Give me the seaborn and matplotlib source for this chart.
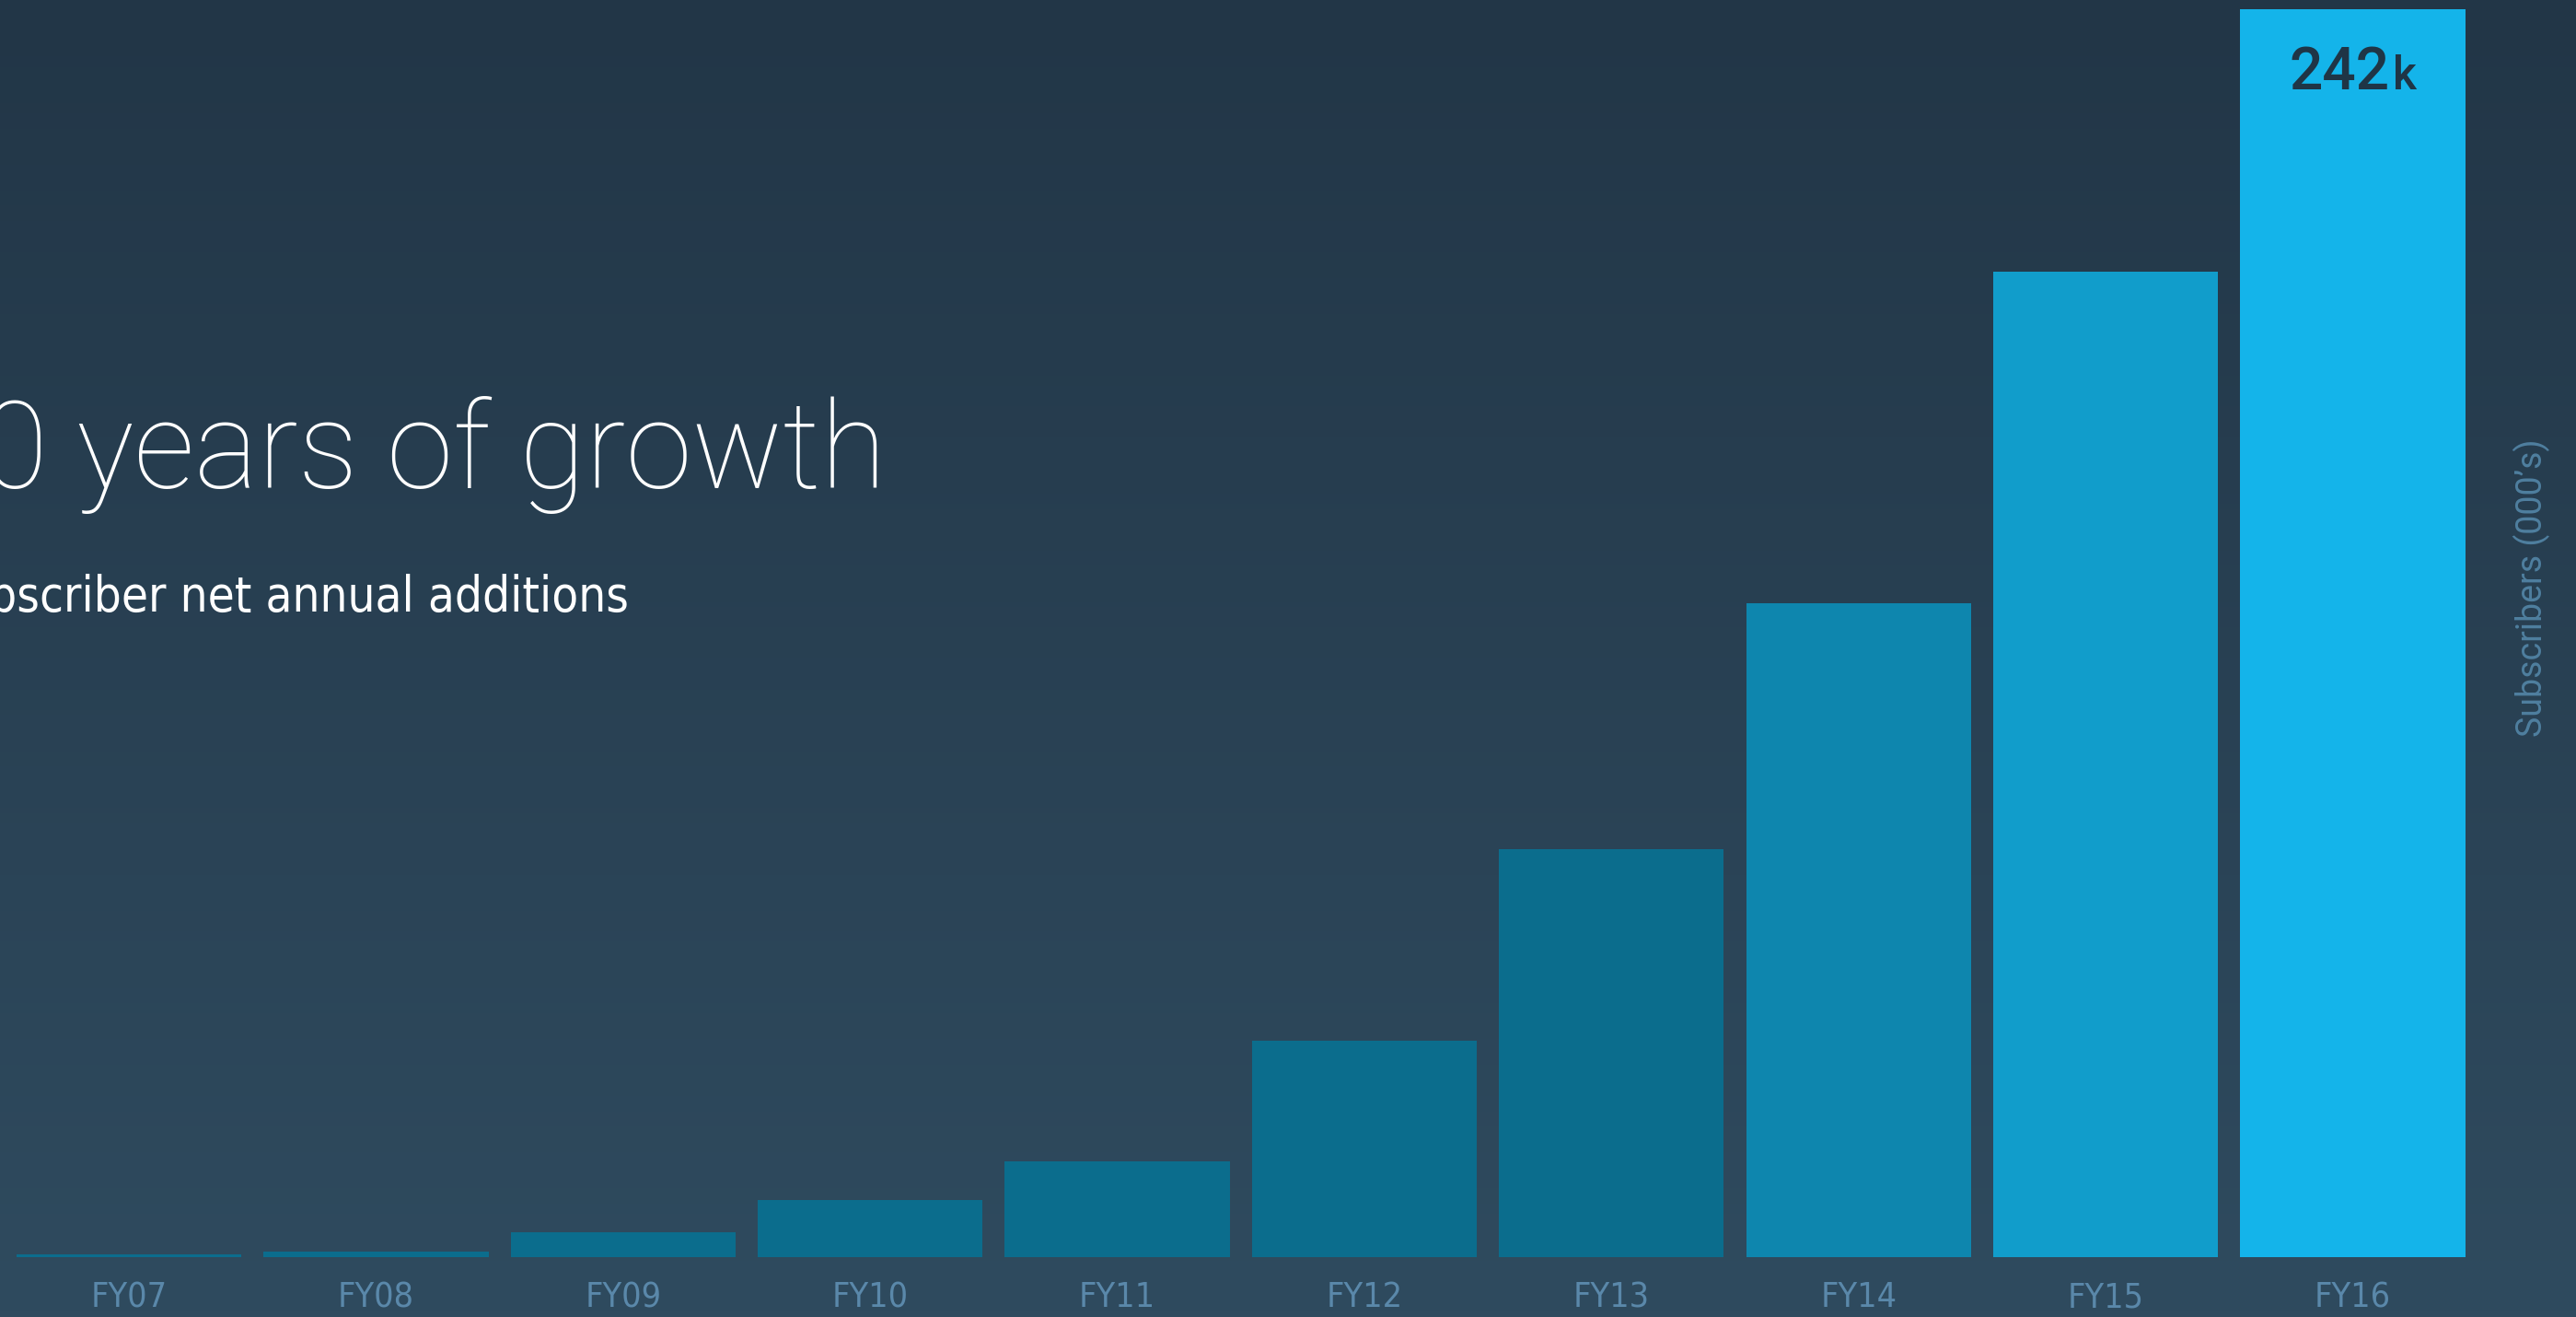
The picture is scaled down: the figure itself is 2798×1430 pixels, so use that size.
import numpy as np
import matplotlib
matplotlib.use("Agg")
import matplotlib.pyplot as plt
from matplotlib import font_manager
from matplotlib.colors import LinearSegmentedColormap
import seaborn as sns

# ---- data ----
years = ["FY07", "FY08", "FY09", "FY10", "FY11", "FY12", "FY13", "FY14", "FY15", "FY16"]
subscribers_k = [0.6, 1.1, 4.8, 11.1, 18.6, 42.0, 79.1, 126.8, 191.1, 242.0]
bar_colors = ["#0b6d8d", "#0b6d8d", "#0b6d8d", "#0b6d8d", "#0b6d8d",
              "#0b6d8d", "#0b6d8d", "#0e86ae", "#119dcb", "#14b4ea"]
title_text = "10 years of growth"
subtitle_text = "Subscriber net annual additions"
ylabel_text = "Subscribers (000\u2019s)"
top_label_num = "242"
top_label_unit = "k"

sns.set_theme(style="white")
plt.rcParams["font.family"] = ["Roboto", "DejaVu Sans"]


def find_font(must, avoid=()):
    for f in font_manager.fontManager.ttflist:
        name = f.fname.split("/")[-1]
        if all(m in name for m in must) and not any(a in name for a in avoid):
            return font_manager.FontProperties(fname=f.fname)
    return None

cond_reg = find_font(["DejaVuSansCondensed."])
if cond_reg is not None:
    sub_fp, sub_size, tick_fp = cond_reg, 38, cond_reg
else:
    sub_fp, sub_size = font_manager.FontProperties(family="Roboto"), 39
    tick_fp = font_manager.FontProperties(family="Roboto")
title_fp = font_manager.FontProperties(family="Roboto", weight="light")
title_size = 94

W, H = 2798, 1430
fig = plt.figure(figsize=(W / 100, H / 100), dpi=100)

# background gradient
bg = fig.add_axes([0, 0, 1, 1])
cmap = LinearSegmentedColormap.from_list("bg", ["#2f4b5f", "#223647"])
grad = np.linspace(0, 1, 256).reshape(-1, 1)
bg.imshow(grad, aspect="auto", cmap=cmap, extent=[0, 1, 0, 1], origin="lower")
bg.set_axis_off()

left_px, right_px = 5.8, 2689.7
base_px, top_px = 1365, 10
ax = fig.add_axes([left_px / W, (H - base_px) / H, (right_px - left_px) / W, (base_px - top_px) / H])
ax.patch.set_alpha(0)

sns.barplot(x=years, y=subscribers_k, hue=years, palette=bar_colors, width=0.91,
            saturation=1, legend=False, ax=ax, edgecolor="none", linewidth=0)
ax.set_xlim(-0.5, len(years) - 0.5)
ax.set_ylim(0, max(subscribers_k))
ax.set_yticks([])
ax.set_xlabel("")
ax.set_ylabel("")
for s in ax.spines.values():
    s.set_visible(False)
ax.tick_params(axis="x", length=0, pad=19)
for lab in ax.get_xticklabels():
    lab.set_fontproperties(tick_fp)
    lab.set_fontsize(27)
    lab.set_color("#5a88aa")

# top value label
ax.annotate(top_label_num, xy=(len(years) - 1, subscribers_k[-1]), xytext=(29, -62.6),
            textcoords="offset points", ha="right", va="baseline",
            fontsize=46, color="#1f3546", fontweight="medium")
ax.annotate(top_label_unit, xy=(len(years) - 1, subscribers_k[-1]), xytext=(31, -62.6),
            textcoords="offset points", ha="left", va="baseline",
            fontsize=36, color="#1f3546", fontweight="medium")

# right-side axis label
fig.text(2750 / W, 1 - 638 / H, ylabel_text, rotation=90, ha="center", va="center",
         fontsize=27, color="#4f7f9f")

# title and subtitle (cut off at the left edge as in the original slide)
fig.text(963 / W, 1 - 530 / H, title_text, ha="right", va="baseline",
         fontproperties=title_fp, fontsize=title_size, color="white")
fig.text(683 / W, 1 - 664 / H, subtitle_text, ha="right", va="baseline",
         fontproperties=sub_fp, fontsize=sub_size, color="white")

fig.savefig("out.png", dpi=100)
